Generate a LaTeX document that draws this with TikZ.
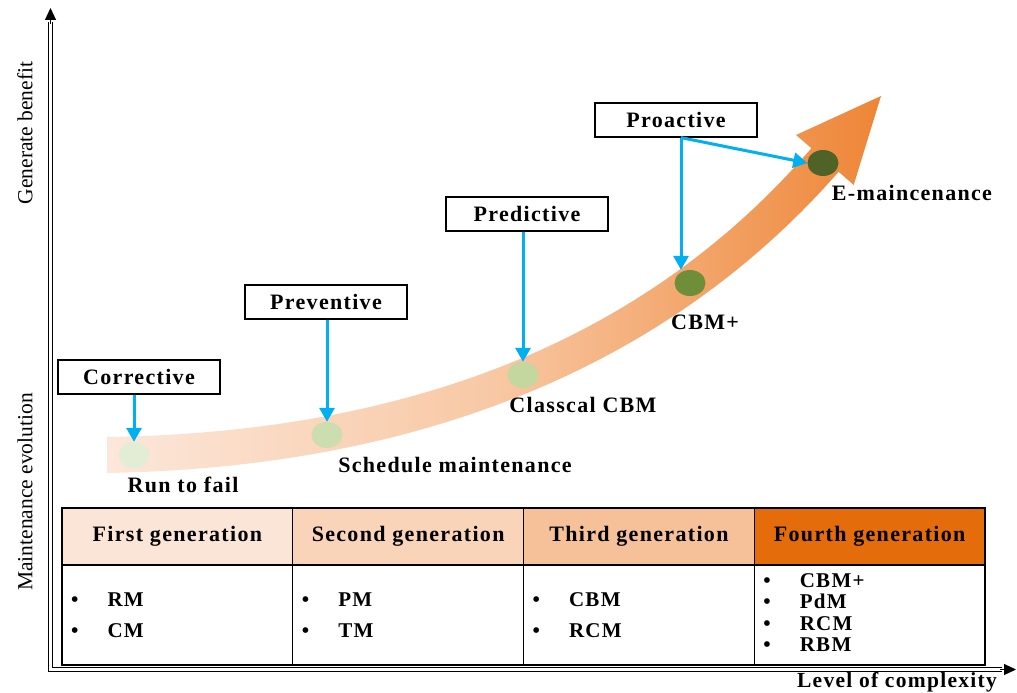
\documentclass[tikz,border=0pt]{standalone}
\usepackage{fontspec}
\setmainfont{Liberation Serif}
\newfontfamily\spacedfont[LetterSpace=6]{Liberation Serif}
\usepackage{tikz}
\usetikzlibrary{arrows.meta,positioning,shapes.geometric}
\definecolor{arrowblue}{HTML}{00B0F0}
\definecolor{bandL}{HTML}{FCE7DA}
\definecolor{bandM}{HTML}{F8C8A4}
\definecolor{bandR}{HTML}{EE8536}
\definecolor{gA}{HTML}{E3ECD5}
\definecolor{gB}{HTML}{CCDDB0}
\definecolor{gC}{HTML}{C4D79E}
\definecolor{gD}{HTML}{6E8E3A}
\definecolor{gE}{HTML}{4F6228}
\definecolor{hA}{HTML}{FBE5D6}
\definecolor{hB}{HTML}{FAD4B8}
\definecolor{hC}{HTML}{F6C199}
\definecolor{hD}{HTML}{E46C0A}

\begin{document}
\begin{tikzpicture}[x=1pt, y=-1pt,
    stage/.style={draw, line width=1.3pt, minimum width=162pt, minimum height=34pt, inner sep=0pt,
      font=\spacedfont\bfseries\fontsize{22}{24}\selectfont},
    spot/.style={ellipse, minimum width=31pt, minimum height=26pt, inner sep=0pt},
    lbl/.style={inner sep=1pt, font=\spacedfont\bfseries\fontsize{22}{24}\selectfont},
    link/.style={draw=arrowblue, line width=3pt, -{Triangle[length=14pt,width=15pt]}},
    hdr/.style={draw, line width=1.2pt, outer sep=0pt, minimum width=230.75pt, minimum height=57pt,
      inner sep=0pt, font=\spacedfont\bfseries\fontsize{22}{24}\selectfont},
    cell/.style={draw, line width=1.2pt, outer sep=0pt, minimum width=230.75pt, minimum height=100pt},
    items/.style={inner sep=0pt, font=\spacedfont\bfseries\fontsize{21}{21.5}\selectfont},
    axislbl/.style={font=\fontsize{21.5}{24}\selectfont},
    axis/.style={double, double distance=2.2pt, line width=1pt},
    tip/.style={line width=1pt, -{Triangle[length=12pt,width=11pt]}}
  ]
  \useasboundingbox (0,0) rectangle (1017,693);

  % axes
  \coordinate (o) at (50.5,669.5);
  \coordinate (ytop) at (50.5,8);
  \coordinate (xend) at (1016,669.5);
  \draw[axis] (50.5,22) -- (o) -- (1002,669.5);
  \draw[tip] (50.5,24) -- (ytop);
  \draw[tip] (1000,669.5) -- (xend);

  \node (gen) [axislbl, rotate=90] at (25,133) {Generate benefit};
  \node (evo) [axislbl, rotate=90] at (25,492) {Maintenance evolution};
  \node (cplx) [lbl, font=\spacedfont\bfseries\fontsize{21.5}{22}\selectfont] at (897,682) {Level of complexity};

  % evolution band
  \shade[left color=bandL, right color=bandR, middle color=bandM]
    (107,437) .. controls (416.5,432.5) and (650,335.5) .. (811.4,148.2)
    -- (796,135) -- (881,96) -- (853.7,184.9) -- (838.6,171.8)
    .. controls (670,364.5) and (423.5,467.5) .. (107,473) -- cycle;

  % stages on the band
  \node (c1) [spot, fill=gA] at (134,455) {};
  \node (c2) [spot, fill=gB] at (327,435) {};
  \node (c3) [spot, fill=gC] at (523,375) {};
  \node (c4) [spot, fill=gD] at (690,283) {};
  \node (c5) [spot, fill=gE] at (823,163) {};

  \node (lrun) [lbl, below=8pt of c1, xshift=49pt] {Run to fail};
  \node (lsched) [lbl, below=8pt of c2, xshift=128pt] {Schedule maintenance};
  \node (lcbm) [lbl, below=8pt of c3, xshift=60pt] {Classcal CBM};
  \node (lplus) [lbl, below=18pt of c4, xshift=15pt] {CBM+};
  \node (lemain) [lbl, below=8pt of c5, xshift=89pt] {E-maincenance};

  % strategy boxes
  \node (corr) [stage] at (139,377) {Corrective};
  \node (prev) [stage] at (326,302) {Preventive};
  \node (pred) [stage] at (527,214) {Predictive};
  \node (proact) [stage] at (676,120) {Proactive};

  \draw[link] (c1.north |- corr.south) -- (c1.north);
  \draw[link] (c2.north |- prev.south) -- (c2.north);
  \draw[link] (c3.north |- pred.south) -- (c3.north);
  \draw[link] ([xshift=5pt]proact.south) -- ([xshift=5pt]proact.south |- c4.north);
  \draw[link] ([xshift=5pt]proact.south) -- (c5.west);

  % generations table
  \node (h1) [hdr, fill=hA] at (177.4,536.5) {First generation};
  \node (h2) [hdr, fill=hB, right=0pt of h1] {Second generation};
  \node (h3) [hdr, fill=hC, right=0pt of h2] {Third generation};
  \node (h4) [hdr, fill=hD, right=0pt of h3] {Fourth generation};

  \node (b1) [cell, below=0pt of h1] {};
  \node (b2) [cell, below=0pt of h2] {};
  \node (b3) [cell, below=0pt of h3] {};
  \node (b4) [cell, below=0pt of h4] {};

  \node (l1) [items, right=9pt of b1.west, yshift=-3pt] {\begin{tabular}{@{}l@{\hspace{29pt}}l@{}}\textbullet & RM\\[9.5pt] \textbullet & CM\end{tabular}};
  \node (l2) [items, right=9pt of b2.west, yshift=-3pt] {\begin{tabular}{@{}l@{\hspace{29pt}}l@{}}\textbullet & PM\\[9.5pt] \textbullet & TM\end{tabular}};
  \node (l3) [items, right=9pt of b3.west, yshift=-3pt] {\begin{tabular}{@{}l@{\hspace{29pt}}l@{}}\textbullet & CBM\\[9.5pt] \textbullet & RCM\end{tabular}};
  \node (l4) [items, right=9pt of b4.west] {\begin{tabular}{@{}l@{\hspace{29pt}}l@{}}\textbullet & CBM+\\ \textbullet & PdM\\ \textbullet & RCM\\ \textbullet & RBM\end{tabular}};
\end{tikzpicture}
\end{document}
